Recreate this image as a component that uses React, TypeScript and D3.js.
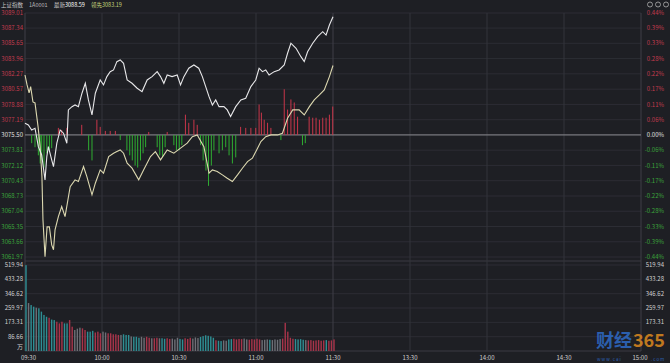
import * as d3 from 'd3';

const W = 670;
const H = 363;

// axis labels
const priceTicks = ['3089.01', '3087.34', '3085.65', '3083.96', '3082.27', '3080.57', '3078.88', '3077.19', '3075.50',
  '3073.81', '3072.12', '3070.43', '3068.73', '3067.04', '3065.35', '3063.66', '3061.97'];
const pctTicks = ['0.44%', '0.39%', '0.33%', '0.28%', '0.22%', '0.17%', '0.11%', '0.06%', '0.00%',
  '-0.06%', '-0.11%', '-0.17%', '-0.22%', '-0.28%', '-0.33%', '-0.39%', '-0.44%'];
const volTicks = [519.94, 433.28, 346.62, 259.97, 173.31, 86.66];
const timeLabels = ['09:30', '10:00', '10:30', '11:00', '11:30', '13:30', '14:00', '14:30', '15:00'];
const timeMinutes = [0, 30, 60, 90, 120, 150, 180, 210, 240];

const prevClose = 3075.5;

// 上证指数 (white line), minutes after 09:30
const indexMinutes = [0, 1.3, 2.6, 3.9, 5.2, 6.5, 7.8, 8.5, 9.1, 10.4, 11.1, 12.4, 13.7, 15, 16.3, 16.9, 18.3, 19.5, 20.8,
  22.2, 23.5, 24.7, 26.1, 27.4, 29.3, 30.6, 31.9, 33.2, 34.5, 35.8, 37.1, 38.4, 39.8, 41.7, 43.7, 45.6, 47.6, 49.5,
  51.5, 52.8, 54.1, 55.4, 57.3, 59.3, 60.6, 61.9, 63.8, 65.8, 67.7, 69.1, 70.4, 71.7, 73, 74.3, 75.6, 77.5, 78.8,
  80.1, 82.1, 84.1, 86, 88, 89.9, 91.2, 92.5, 93.8, 95.1, 97.1, 99, 101, 102.3, 103.6, 105.6, 107.5, 108.8, 110.1,
  112.1, 114, 116, 117.3, 118.6, 120];
const indexPrices = [3076.80, 3076.61, 3076.05, 3076.24, 3074.20, 3073.29, 3070.52, 3073.10, 3074.20, 3072.73, 3071.99,
  3074.58, 3076.05, 3075.69, 3074.58, 3078.27, 3078.63, 3078.82, 3078.63, 3080.12, 3081.22, 3079.38, 3077.71, 3080.12,
  3081.59, 3081.04, 3081.96, 3082.51, 3082.70, 3083.62, 3083.81, 3083.44, 3081.59, 3081.22, 3080.67, 3080.30, 3081.59,
  3081.96, 3082.51, 3081.96, 3081.22, 3082.14, 3081.96, 3082.14, 3081.04, 3081.96, 3082.89, 3083.25, 3082.89, 3081.96,
  3080.85, 3079.74, 3078.82, 3079.38, 3078.63, 3078.63, 3078.27, 3077.53, 3078.63, 3079.38, 3079.56, 3080.85, 3081.59,
  3082.89, 3082.51, 3082.70, 3082.14, 3082.51, 3082.70, 3083.25, 3084.55, 3085.66, 3085.10, 3084.17, 3083.62, 3084.72,
  3085.66, 3086.39, 3086.94, 3086.57, 3087.68, 3088.59];

// 领先 (yellowish line)
const leadMinutes = [0, 0.8, 1.6, 2.2, 3.1, 3.9, 5.1, 5.9, 6.6, 7, 7.8, 8.6, 9.5, 10.4, 11.1, 11.7, 13, 14.3, 15.6, 17.6,
  19.5, 20.8, 22.8, 24.1, 26.1, 27.4, 29.3, 30.6, 32.6, 34.5, 35.8, 37.1, 38.4, 39.8, 41.7, 44.3, 46.2, 48.9, 50.8,
  52.8, 55.4, 58, 60.6, 63.2, 65.2, 67.1, 69.7, 71.7, 73, 74.9, 76.9, 78.8, 80.8, 82.8, 84.7, 86.7, 88.6, 90.6, 91.9,
  93.8, 95.8, 98.4, 100.3, 102.3, 104.3, 106.8, 108.8, 110.8, 112.7, 114.7, 116.6, 118.6, 120];
const leadPrices = [3082.14, 3081.04, 3080.15, 3080.85, 3079.15, 3079.04, 3076.39, 3074.17, 3070.85, 3066.09, 3061.99,
  3065.31, 3065.31, 3063.32, 3062.77, 3064.98, 3066.45, 3067.56, 3066.45, 3069.77, 3070.52, 3070.33, 3071.99, 3070.88,
  3068.86, 3070.15, 3071.62, 3071.26, 3073.10, 3073.47, 3073.65, 3073.84, 3073.47, 3072.37, 3071.81, 3070.52, 3071.62,
  3073.10, 3073.65, 3072.73, 3073.84, 3073.47, 3074.03, 3074.58, 3075.31, 3075.50, 3074.20, 3071.26, 3071.62, 3071.44,
  3071.07, 3070.70, 3070.33, 3071.07, 3071.81, 3072.54, 3072.92, 3074.03, 3074.76, 3075.31, 3075.50, 3075.50, 3075.69,
  3077.35, 3078.27, 3078.27, 3077.71, 3078.63, 3079.38, 3079.93, 3080.48, 3081.96, 3083.19];

// red / green strength bars around the 0.00% line
const strengthMinutes = [2.6, 3.9, 5.2, 5.9, 6.5, 7.4, 8.5, 9.5, 10.4, 13, 14.3, 16.3, 22.1, 24.8, 26.1, 28, 29.3, 31.3,
  33.2, 35.2, 37.1, 39.7, 40.8, 41.8, 42.9, 43.9, 45, 46, 47, 48.2, 51.5, 52.5, 53.6, 54.6, 55.4, 58, 59, 60.1, 61.1,
  62.5, 63.8, 65.8, 67.1, 68.4, 69.4, 70.5, 71.5, 72.6, 73.6, 75.6, 76.9, 78.2, 79.5, 80.8, 82.1, 84, 86, 88, 89.9,
  91.2, 92.1, 93.2, 94.5, 95.8, 99.7, 101, 102.3, 103.6, 104.9, 106.2, 108.1, 109.2, 110.7, 112.1, 113.4, 114.7, 116,
  117.3, 118.6, 119.9];
const strengthValues = [-8, -12, -20, -28, -25, -32, -18, -15, -13, 7, 5, 7, 10, -15, -25, 15, 8, 4, 4, 4, -5, -15, -20,
  -25, -30, -32, -25, -18, -12, 3, -12, -20, -22, -12, 3, -10, -15, -15, -10, 20, 12, 15, 10, -10, -25, -35, -50, -30,
  -15, -18, -15, -12, -20, -28, -22, 8, 7, 7, 7, 30, 22, 15, 12, 7, -5, 45, 25, 35, 32, 18, -10, -8, 18, 17, 17, 15,
  17, 17, 20, 28];

// volume per minute (万)
const volumes = [519, 290, 278, 268, 262, 258, 238, 218, 207, 201,
  190, 187, 177, 167, 177, 167, 167, 187, 147, 127,
  135, 141, 137, 127, 117, 117, 122, 112, 117, 107,
  117, 112, 107, 107, 101, 101, 97, 97, 101, 97,
  97, 88, 86, 86, 80, 86, 80, 86, 80, 77,
  77, 80, 77, 77, 74, 77, 73, 75, 70, 80,
  73, 70, 77, 73, 80, 75, 82, 78, 85, 90,
  95, 92, 88, 80, 65, 62, 60, 64, 62, 70,
  72, 74, 70, 73, 72, 75, 70, 68, 72, 70,
  74, 70, 66, 68, 70, 68, 66, 70, 68, 72,
  75, 170, 117, 80, 74, 72, 70, 72, 68, 66,
  64, 66, 62, 64, 66, 62, 64, 66, 62, 64,
  70];

const RED = '#c23b4e';
const GREEN = '#3ba23b';

export default function App() {
  const x = d3.scaleLinear().domain([0, 240]).range([25, 641]);
  const y = d3.scaleLinear().domain([3061.97, 3089.01]).range([257, 13]);
  const ys = d3.scaleLinear().domain([-120, 120]).range([257, 13]);
  const yv = d3.scaleLinear().domain([0, 519.94]).range([351, 265]);

  const line = d3.line<[number, number]>().x(d => x(d[0])).y(d => y(d[1]));
  const indexPath = line(indexMinutes.map((m, i) => [m, indexPrices[i]]) as [number, number][]) || '';
  const leadPath = line(leadMinutes.map((m, i) => [m, leadPrices[i]]) as [number, number][]) || '';

  // bar colour follows the index direction within each minute
  const idxAt = d3.scaleLinear().domain(indexMinutes).range(indexPrices);
  const volColor = (m: number) => {
    if (m === 0) return '#2e8f94';
    const d = idxAt(m) - idxAt(m - 1);
    if (d > 0.2) return '#a8344a';
    if (d < -0.2) return '#2e8f94';
    return '#6e6f76';
  };

  const tickColor = (i: number) => (i < 8 ? RED : i > 8 ? GREEN : '#e0e0e0');

  return (
    <>
      <style>{`body{margin:0;background:#1e1f24}`}</style>
      <svg width={W} height={H} style={{ display: 'block', background: '#1e1f24' }}
        fontFamily="'Noto Sans CJK SC', 'Noto Sans', sans-serif">
        {/* horizontal grid */}
        {priceTicks.map((t, i) => (
          <line key={'hg' + i} x1={25} x2={641} y1={y(+t)} y2={y(+t)} stroke="#2c2d34" strokeWidth={1} />
        ))}
        {volTicks.map((v, i) => (
          <line key={'vg' + i} x1={25} x2={641} y1={yv(v)} y2={yv(v)} stroke="#2c2d34" strokeWidth={1} />
        ))}
        <line x1={25} x2={641} y1={261} y2={261} stroke="#3a3b42" />
        <line x1={25} x2={641} y1={yv(0)} y2={yv(0)} stroke="#3a3b42" />

        {/* vertical grid */}
        {timeMinutes.map((m, i) => (
          <line key={'tg' + i} x1={x(m)} x2={x(m)} y1={13} y2={yv(0)}
            stroke={i === 0 || i === 4 || i === 8 ? '#3e3f46' : '#33343b'} strokeWidth={1} />
        ))}

        {/* zero line */}
        <line x1={25} x2={641} y1={y(prevClose)} y2={y(prevClose)} stroke="#8a8a8e" strokeWidth={1} />

        {/* strength bars */}
        {strengthMinutes.map((m, i) => {
          const v = strengthValues[i];
          return (
            <rect key={'sb' + i} x={x(m) - 0.5} width={1}
              y={Math.min(ys(v), ys(0))} height={Math.abs(ys(v) - ys(0))}
              fill={v > 0 ? '#c8364a' : '#2fae32'} />
          );
        })}

        {/* price lines */}
        <path d={leadPath} fill="none" stroke="#dcd8b0" strokeWidth={1.1} />
        <path d={indexPath} fill="none" stroke="#e8e8ea" strokeWidth={1.1} />

        {/* volume bars */}
        {volumes.map((v, m) => (
          <rect key={'vb' + m} x={x(m) + 0.3} width={1.4} y={yv(v)} height={yv(0) - yv(v)} fill={volColor(m)} />
        ))}

        {/* watermark, under the labels */}
        <g opacity={0.8}>
          <text x={596} y={347} fontSize={18} fontWeight="bold" fill="#2f6fd0">财经</text>
          <text x={633} y={347} fontSize={18} fontWeight="bold" fill="#e8901e">365</text>
          <text x={597} y={361} fontSize={4.5} fill="#2f6fd0" letterSpacing={1}>www.cai</text>
          <text x={651} y={361} fontSize={4.5} fill="#2f6fd0" letterSpacing={1}>.com</text>
        </g>

        {/* left / right price labels */}
        {priceTicks.map((t, i) => (
          <text key={'lt' + i} x={23} y={y(+t)} dy="0.35em" textAnchor="end" fontSize={6} fill={tickColor(i)}>{t}</text>
        ))}
        {pctTicks.map((t, i) => (
          <text key={'rt' + i} x={664} y={y(+priceTicks[i])} dy="0.35em" textAnchor="end" fontSize={6}
            fill={tickColor(i)}>{t}</text>
        ))}

        {/* volume labels */}
        {volTicks.map((v, i) => (
          <g key={'vl' + i}>
            <text x={23} y={yv(v)} dy="0.35em" textAnchor="end" fontSize={6} fill="#d0d0d0">{v.toFixed(2)}</text>
            {i < 5 && (
              <text x={664} y={yv(v)} dy="0.35em" textAnchor="end" fontSize={6} fill="#d0d0d0">{v.toFixed(2)}</text>
            )}
          </g>
        ))}
        <text x={23} y={yv(0) - 4} dy="0.35em" textAnchor="end" fontSize={6} fill="#d0d0d0">万</text>

        {/* time labels */}
        {timeLabels.map((t, i) => (
          <text key={'xl' + i} x={i === 0 ? 21 : i === 8 ? 640 : x(timeMinutes[i])} y={358} dy="0.35em"
            textAnchor={i === 0 ? 'start' : 'middle'} fontSize={6} fill="#cfcfcf">{t}</text>
        ))}

        {/* header */}
        <text y={7} fontSize={5.5}>
          <tspan x={1} fill="#c8c8c8">上证指数</tspan>
          <tspan x={29} fill="#b8b8b8">1A0001</tspan>
          <tspan x={54} fill="#cfcfcf">最新</tspan>
          <tspan fill="#ffffff">3088.59</tspan>
          <tspan x={91} fill="#c2d27a">领先</tspan>
          <tspan fill="#c2d27a">3083.19</tspan>
        </text>

        {/* toolbar icons */}
        {[650, 658, 666].map(cx => (
          <circle key={cx} cx={cx} cy={4.5} r={2.5} fill="none" stroke="#b0b0b0" strokeWidth={0.8} />
        ))}
      </svg>
    </>
  );
}
